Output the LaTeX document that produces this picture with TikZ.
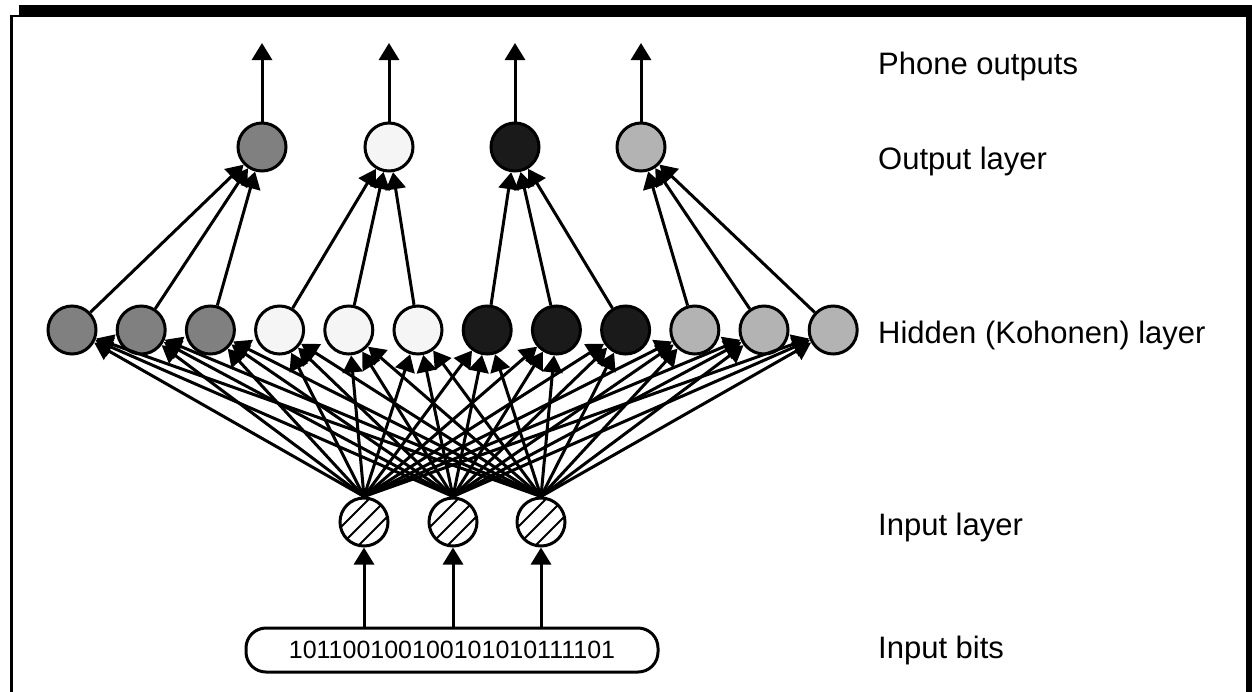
\documentclass[tikz,border=0pt]{standalone}
\usepackage{fontspec}
\setmainfont{Liberation Sans}
\usetikzlibrary{arrows.meta,calc}
\definecolor{toneA}{HTML}{808080}
\definecolor{toneB}{HTML}{F5F5F5}
\definecolor{toneC}{HTML}{1A1A1A}
\definecolor{toneD}{HTML}{B3B3B3}
\begin{document}
\begin{tikzpicture}[x=1pt,y=-1pt,
  unit/.style={circle, draw, line width=3pt, minimum size=48pt, inner sep=0pt},
  hatched/.style={unit, fill=white, path picture={
      \foreach \k in {-3,...,3}
        \draw[line width=2pt] ($(path picture bounding box.center)+(\k*18-40,40)$) -- ++(80,-80);}},
  link/.style={line width=3pt, -{Triangle[length=17pt,width=20pt]}},
  lbl/.style={anchor=west, font=\fontsize{31}{37}\selectfont, inner sep=0pt}]
\useasboundingbox (0,0) rectangle (1252,691);

% shadowed frame
\fill (19,5) rectangle (1262,700);
\filldraw[fill=white, line width=2.5pt] (11.5,16) rectangle (1247.5,705);

% output layer
\foreach \i/\x/\c in {1/262/toneA, 2/389/toneB, 3/515/toneC, 4/641/toneD} {
  \node[unit, fill=\c] (o\i) at (\x,147) {};
  \coordinate (t\i) at (\x,43);
  \draw[link] (o\i) -- (t\i);
}

% hidden (Kohonen) layer
\foreach \i/\c in {1/toneA,2/toneA,3/toneA,4/toneB,5/toneB,6/toneB,
                   7/toneC,8/toneC,9/toneC,10/toneD,11/toneD,12/toneD} {
  \node[unit, fill=\c] (h\i) at ({72+69.2*(\i-1)},330) {};
}

% input layer
\foreach \i/\x in {1/364,2/453,3/541} {
  \node[hatched] (in\i) at (\x,522) {};
}

% input bits
\node[draw, line width=3pt, rounded corners=20pt, minimum width=412pt, minimum height=44pt,
      inner sep=0pt, font=\fontsize{25}{30}\selectfont] (bits) at (452,650) {101100100100101010111101};

% connections
\foreach \i in {1,2,3} {
  \draw[link] (in\i |- bits.north) -- (in\i);
  \foreach \j in {1,...,12} {
    \draw[link] (in\i.north) -- (h\j);
  }
}
\foreach \j in {1,2,3} { \draw[link] (h\j) -- (o1); }
\foreach \j in {4,5,6} { \draw[link] (h\j) -- (o2); }
\foreach \j in {7,8,9} { \draw[link] (h\j) -- (o3); }
\foreach \j in {10,11,12} { \draw[link] (h\j) -- (o4); }

% layer labels
\node[lbl] (l1) at (878,66) {Phone outputs};
\node[lbl] (l2) at (878,161) {Output layer};
\node[lbl] (l3) at (878,335) {Hidden (Kohonen) layer};
\node[lbl] (l4) at (878,527) {Input layer};
\node[lbl] (l5) at (878,650) {Input bits};
\end{tikzpicture}
\end{document}
